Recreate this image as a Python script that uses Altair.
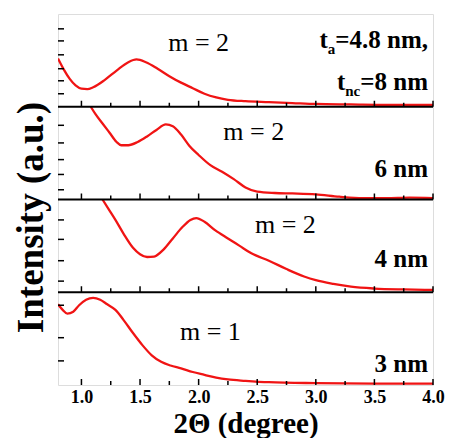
import altair as alt
import pandas as pd

SERIF = "Liberation Serif"
RED = "#f01414"
X_MIN, X_MAX = 0.8, 4.0

# ---- curve data (intensity as fraction of each panel's height) ----
p1_x = [0.80, 0.85, 0.90, 0.95, 1.00, 1.05, 1.10, 1.20, 1.30, 1.40, 1.47, 1.55, 1.65, 1.75,
        1.85, 1.95, 2.05, 2.15, 2.25, 2.40, 2.60, 2.80, 3.00, 3.30, 3.60, 4.00]
p1_y = [0.52, 0.40, 0.30, 0.23, 0.195, 0.19, 0.21, 0.29, 0.39, 0.48, 0.51, 0.48, 0.41, 0.33,
        0.26, 0.20, 0.14, 0.10, 0.075, 0.06, 0.05, 0.04, 0.03, 0.025, 0.02, 0.02]

p2_x = [1.08, 1.12, 1.18, 1.24, 1.30, 1.34, 1.40, 1.48, 1.56, 1.64, 1.72, 1.78, 1.85, 1.92,
        2.00, 2.10, 2.20, 2.30, 2.40, 2.50, 2.65, 2.80, 3.00, 3.20, 3.40, 3.60, 3.80, 4.00]
p2_y = [1.00, 0.92, 0.82, 0.72, 0.62, 0.585, 0.585, 0.62, 0.68, 0.75, 0.81, 0.79, 0.70, 0.58,
        0.48, 0.37, 0.30, 0.22, 0.13, 0.085, 0.07, 0.065, 0.055, 0.03, 0.015, 0.015, 0.02, 0.015]

p3_x = [1.18, 1.24, 1.29, 1.36, 1.44, 1.50, 1.56, 1.62, 1.70, 1.78, 1.86, 1.93, 1.98, 2.05,
        2.14, 2.25, 2.35, 2.45, 2.60, 2.75, 2.90, 3.00, 3.15, 3.30, 3.50, 3.75, 4.00]
p3_y = [1.00, 0.88, 0.78, 0.63, 0.48, 0.41, 0.38, 0.385, 0.46, 0.58, 0.70, 0.78, 0.80, 0.76,
        0.67, 0.58, 0.50, 0.42, 0.34, 0.25, 0.17, 0.13, 0.09, 0.06, 0.04, 0.03, 0.025]

p4_x = [0.80, 0.84, 0.88, 0.93, 0.98, 1.04, 1.10, 1.16, 1.22, 1.29, 1.36, 1.44, 1.52, 1.60,
        1.68, 1.76, 1.85, 1.95, 2.05, 2.15, 2.25, 2.40, 2.60, 3.00, 3.50, 4.00]
p4_y = [0.87, 0.81, 0.77, 0.79, 0.86, 0.92, 0.94, 0.92, 0.87, 0.81, 0.70, 0.56, 0.43, 0.32,
        0.25, 0.21, 0.18, 0.14, 0.11, 0.08, 0.06, 0.045, 0.03, 0.02, 0.015, 0.015]

# ---- ticks ----
x_major = [1.0, 1.5, 2.0, 2.5, 3.0, 3.5, 4.0]
x_minor = [1.25, 1.75, 2.25, 2.75, 3.25, 3.75]
y_ticks_p1 = [0.14, 0.28, 0.41, 0.56, 0.71, 0.84]
y_ticks_p2 = [0.105, 0.27, 0.43, 0.61, 0.80]
y_ticks_p3 = [0.12, 0.34, 0.57, 0.78]
y_ticks_p4 = [0.26, 0.51, 0.86]
panel_bases = [0, 1, 2, 3]
panel_separators = [1, 2, 3]

# ---- annotations ----
m_labels = ["m = 2", "m = 2", "m = 2", "m = 1"]
m_x = [2.00, 2.47, 2.74, 2.10]
m_y = [3.687, 2.728, 1.725, 0.571]
nm_labels = ["6 nm", "4 nm", "3 nm"]
nm_y = [2.243, 1.272, 0.140]
top_line1 = ["t", "a", "=4.8 nm,"]
top_line2 = ["t", "nc", "=8 nm"]
top_y = [3.633, 3.18]

# ---- build tables ----
panels = [(p1_x, p1_y), (p2_x, p2_y), (p3_x, p3_y), (p4_x, p4_y)]
rows = []
for i, (xs, ys) in enumerate(panels):
    off = 3 - i
    for xv, yv in zip(xs, ys):
        rows.append({"panel": i, "x": xv, "y": yv + off})
curves = pd.DataFrame(rows)

xt_major = pd.DataFrame([{"x": xv, "b": b} for b in panel_bases for xv in x_major])
xt_minor = pd.DataFrame([{"x": xv, "b": b} for b in panel_bases for xv in x_minor])
yt_rows = []
for i, lst in enumerate([y_ticks_p1, y_ticks_p2, y_ticks_p3, y_ticks_p4]):
    for v in lst:
        yt_rows.append({"x0": X_MIN, "y": v + 3 - i})
yt = pd.DataFrame(yt_rows)
seps = pd.DataFrame({"y": panel_separators})
mdf = pd.DataFrame({"t": m_labels, "x": m_x, "y": m_y})
nmdf = pd.DataFrame({"t": nm_labels, "x": [X_MAX] * 3, "y": nm_y})

x_scale = alt.Scale(domain=[X_MIN, X_MAX], nice=False, zero=False)
y_scale = alt.Scale(domain=[0, 4], nice=False, zero=False)

PLOT_W, PLOT_H = 375, 371

lines = alt.Chart(curves).mark_line(color=RED, strokeWidth=2.3, interpolate="monotone", clip=True).encode(
    x=alt.X("x:Q", scale=x_scale, axis=alt.Axis(
        values=x_major, format=".1f", labelFont=SERIF, labelFontWeight="bold", labelFontSize=18,
        labelColor="black", labelFlush=False, labelOverlap=False, ticks=False, domain=False, grid=False,
        labelPadding=3, title="2Θ (degree)", titleFont=SERIF, titleFontSize=29,
        titleFontWeight="bold", titleColor="black", titleBaseline="alphabetic", titleY=47)),
    y=alt.Y("y:Q", scale=y_scale, axis=alt.Axis(
        labels=False, ticks=False, domain=False, grid=False, title="Intensity (a.u.)",
        titleFont=SERIF, titleFontSize=37, titleFontWeight="bold", titleColor="black",
        titleBaseline="alphabetic", titleX=-15.5, titleY=203)),
    detail="panel:N",
)

sep_rules = alt.Chart(seps).mark_rule(color="black", strokeWidth=2).encode(
    y=alt.Y("y:Q", scale=y_scale))

xtick_major = alt.Chart(xt_major).mark_rule(color="black", strokeWidth=1.5, y2Offset=-6).encode(
    x=alt.X("x:Q", scale=x_scale), y=alt.Y("b:Q", scale=y_scale), y2="b:Q")
xtick_minor = alt.Chart(xt_minor).mark_rule(color="black", strokeWidth=1.5, y2Offset=-4).encode(
    x=alt.X("x:Q", scale=x_scale), y=alt.Y("b:Q", scale=y_scale), y2="b:Q")
ytick = alt.Chart(yt).mark_rule(color="black", strokeWidth=1.5, x2Offset=6).encode(
    x=alt.X("x0:Q", scale=x_scale), x2="x0:Q", y=alt.Y("y:Q", scale=y_scale))

m_text = alt.Chart(mdf).mark_text(font=SERIF, fontSize=26, color="black", align="center",
                                  baseline="middle").encode(
    x=alt.X("x:Q", scale=x_scale), y=alt.Y("y:Q", scale=y_scale), text="t:N")
nm_text = alt.Chart(nmdf).mark_text(font=SERIF, fontSize=25, fontWeight="bold", color="black",
                                    align="right", baseline="alphabetic", dx=-5).encode(
    x=alt.X("x:Q", scale=x_scale), y=alt.Y("y:Q", scale=y_scale), text="t:N")

# top-right two-line label with subscripts
BIG, SUB = 25, 15
def w_big(s):
    widths = {"=": 0.570, "4": 0.5, ".": 0.25, "8": 0.5, " ": 0.25, "n": 0.556, "m": 0.833, ",": 0.25, "t": 0.333}
    return sum(widths[c] for c in s) * BIG
def w_sub(s):
    widths = {"a": 0.5, "n": 0.556, "c": 0.444}
    return sum(widths[c] for c in s) * SUB

top_layers = []
for parts, yv in zip([top_line1, top_line2], top_y):
    t_part, sub_part, main_part = parts
    d = pd.DataFrame({"x": [X_MAX], "y": [yv]})
    dx_main = -5
    dx_sub = dx_main - w_big(main_part)
    dx_t = dx_sub - w_sub(sub_part)
    for txt, size, dx, dy in [(main_part, BIG, dx_main, 0), (sub_part, SUB, dx_sub, 6), (t_part, BIG, dx_t, 0)]:
        top_layers.append(alt.Chart(d).mark_text(
            font=SERIF, fontSize=size, fontWeight="bold", color="black", align="right",
            baseline="alphabetic", dx=dx, dy=dy, text=txt).encode(
            x=alt.X("x:Q", scale=x_scale), y=alt.Y("y:Q", scale=y_scale)))

TOTAL_W, TOTAL_H = 437, 430
PAD_L, PAD_T = 50, 6
chart = alt.layer(lines, sep_rules, xtick_major, xtick_minor, ytick, m_text, nm_text, *top_layers).properties(
    width=PLOT_W, height=PLOT_H,
    autosize=alt.AutoSizeParams(type="none"),
    padding={"left": PAD_L, "top": PAD_T,
             "right": TOTAL_W - PAD_L - PLOT_W, "bottom": TOTAL_H - PAD_T - PLOT_H},
).configure_view(stroke="black", strokeWidth=2).configure(background="white")

chart.save("out.html", embed_options={"renderer": "svg", "actions": False})
